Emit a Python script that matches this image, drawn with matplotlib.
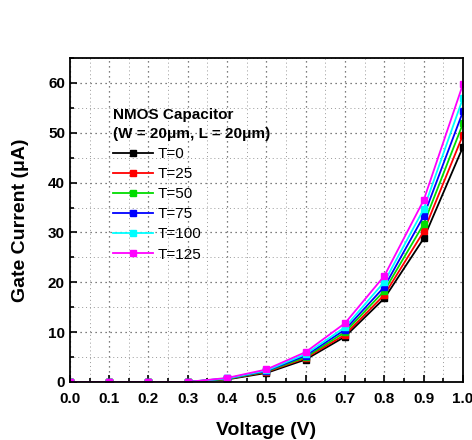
import matplotlib
matplotlib.use("Agg")
import matplotlib.pyplot as plt
from matplotlib.ticker import MultipleLocator

plt.rcParams["font.family"] = ["Liberation Sans", "DejaVu Sans"]

voltage = [0.0, 0.1, 0.2, 0.3, 0.4, 0.5, 0.6, 0.7, 0.8, 0.9, 1.0]
labels = ["T=0", "T=25", "T=50", "T=75", "T=100", "T=125"]
colors = ["#000000", "#ff0000", "#00dd00", "#0000ff", "#00ffff", "#ff00ff"]
current_t0 = [0, 0, 0, 0, 0.5, 1.8, 4.5, 9.1, 16.8, 28.8, 47.2]
current_t25 = [0, 0, 0, 0, 0.6, 2.0, 4.8, 9.5, 17.5, 30.2, 49.6]
current_t50 = [0, 0, 0, 0, 0.6, 2.1, 5.0, 10.0, 18.3, 31.7, 51.9]
current_t75 = [0, 0, 0, 0, 0.7, 2.2, 5.3, 10.5, 19.1, 33.3, 54.3]
current_t100 = [0, 0, 0, 0, 0.7, 2.3, 5.6, 11.0, 20.1, 34.7, 57.0]
current_t125 = [0, 0, 0, 0, 0.8, 2.5, 6.0, 11.8, 21.3, 36.5, 59.8]
series = [current_t0, current_t25, current_t50, current_t75, current_t100, current_t125]

fig = plt.figure(figsize=(4.72, 4.4), dpi=100)
ax = fig.add_axes([0.148, 0.132, 0.833, 0.736])

for ys, label, color in zip(series, labels, colors):
    ax.plot(voltage, ys, color=color, marker="s", markersize=4, linewidth=1.3, label=label)

ax.set_xlim(0, 1.0)
ax.set_ylim(0, 65)
ax.xaxis.set_major_locator(MultipleLocator(0.1))
ax.xaxis.set_minor_locator(MultipleLocator(0.05))
ax.yaxis.set_major_locator(MultipleLocator(10))
ax.yaxis.set_minor_locator(MultipleLocator(5))
ax.grid(True, which="major", linestyle=(0, (1, 3)), color="#555555", linewidth=0.9)
ax.grid(True, which="minor", linestyle=(0, (1, 3)), color="#999999", linewidth=0.7)
ax.tick_params(which="both", direction="in", labelsize=11, width=1.2)
ax.tick_params(which="major", length=5)
ax.tick_params(which="minor", length=3)
ax.tick_params(axis="x", pad=7)
ax.set_xticks(voltage)
ax.set_xticklabels([f"{v:.1f}" for v in voltage], fontweight="bold")
for lbl in ax.get_yticklabels():
    lbl.set_fontweight("bold")
for spine in ax.spines.values():
    spine.set_linewidth(1.3)

ax.set_xlabel("Voltage (V)", fontsize=14, fontweight="bold", labelpad=12)
ax.set_ylabel("Gate Current (\u03bcA)", fontsize=14, fontweight="bold", labelpad=14)

leg = ax.legend(title="NMOS Capacitor\n(W = 20\u03bcm, L = 20\u03bcm)", loc="upper left",
                bbox_to_anchor=(0.095, 0.865), frameon=False, fontsize=11,
                title_fontsize=11, handlelength=2.6, handletextpad=0.3,
                labelspacing=0.4, borderaxespad=0)
leg.get_title().set_fontweight("bold")
leg.get_title().set_linespacing(1.45)
leg._legend_box.align = "left"

fig.savefig("out.png", dpi=100)
